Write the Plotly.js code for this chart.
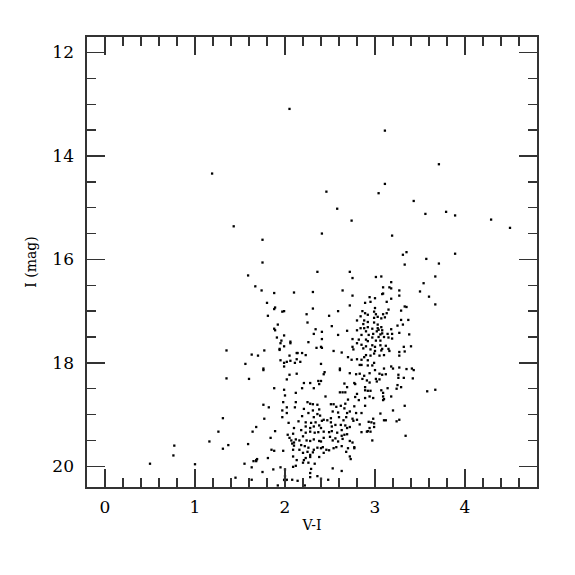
<!DOCTYPE html>
<html>
<head>
<meta charset="utf-8">
<script src="https://cdn.plot.ly/plotly-3.0.1.min.js"></script>
<style>html,body{margin:0;padding:0;background:#fff;}</style>
</head>
<body>
<div id="chart" style="width:575px;height:575px;"></div>
<script>
// Upper sparse stars
var viUpper  = [1.19,1.43,2.05,3.11,3.71,3.11,2.46,3.04,3.43,2.58,3.56,3.79,3.89,4.29,2.74,4.50,2.41,1.75,3.19];
var magUpper = [14.34,15.36,13.09,13.51,14.16,14.54,14.69,14.72,14.87,15.02,15.12,15.08,15.15,15.23,15.25,15.39,15.50,15.62,15.54];

// Blue sparse stars
var viBlue  = [1.35,1.35,1.31,1.26,1.16,1.37,1.31,0.77,0.76,0.50,1.00,1.45];
var magBlue = [17.76,18.30,19.07,19.33,19.52,19.59,19.66,19.60,19.79,19.95,19.96,20.22];

// Left bright branch (V-I 1.5-2.5, I 16-18.1)
var viLeftBright  = [1.75,1.59,2.36,1.67,1.74,1.88,2.10,2.31,1.80,1.89,
                     1.88,1.97,1.99,2.31,1.81,2.24,2.49,2.25,1.92,1.88,
                     1.89,2.34,2.41,1.99,2.32,1.91,1.96,2.06,2.06,2.41,
                     2.26,1.95,1.94,1.99,2.35,2.40,2.41,1.94,1.77,1.63,
                     1.70,2.13,2.14,2.19,2.23,2.05,2.13,1.95,1.56,2.02,
                     2.06,1.99,2.11,2.17,2.40,1.99,1.76];
var magLeftBright = [16.06,16.31,16.24,16.52,16.60,16.65,16.64,16.63,16.84,16.93,
                     16.96,17.01,17.00,16.95,17.09,17.06,17.09,17.22,17.26,17.34,
                     17.37,17.35,17.40,17.47,17.44,17.51,17.57,17.59,17.62,17.54,
                     17.60,17.62,17.73,17.68,17.71,17.69,17.71,17.75,17.76,17.84,
                     17.86,17.81,17.81,17.81,17.85,17.86,17.93,17.95,18.02,17.98,
                     17.96,18.00,18.00,17.98,18.02,18.07,18.11];

// Red bright branch (V-I 2.5-3.5, I 15.8-18.1)
var viRedBright  = [3.31,3.35,3.33,2.72,2.75,3.01,3.07,3.18,3.09,3.16,
                    3.18,2.64,2.75,3.08,3.09,3.27,3.27,3.50,2.94,3.00,
                    3.18,2.89,2.95,3.13,2.72,3.00,2.59,3.33,3.35,2.86,
                    2.89,2.99,3.15,3.29,3.13,2.84,2.92,3.01,3.09,2.99,
                    3.03,3.07,3.11,2.80,2.88,2.92,2.99,3.29,3.37,2.87,
                    3.03,3.31,2.52,2.84,2.88,2.92,2.97,3.03,3.07,2.90,
                    3.02,3.04,3.08,3.18,3.25,2.80,2.69,2.98,3.06,3.08,
                    3.14,3.19,2.93,2.85,2.59,3.27,3.38,2.97,3.04,3.10,
                    3.15,3.19,2.75,2.82,2.90,2.92,3.01,3.06,2.80,2.85,
                    2.90,2.97,3.00,3.06,3.12,3.32,3.40,2.75,2.87,2.76,
                    2.95,3.08,3.07,3.15,3.16,2.54,2.63,3.00,3.27,3.33,
                    2.90,2.99,2.95,2.88,3.05,3.10,3.27,2.70,2.74,2.80,
                    2.85,2.92,2.99,2.83,2.85,2.92,2.97,2.61,3.10,3.18,
                    3.20,3.27,3.35,3.41];
var magRedBright = [15.91,15.86,16.10,16.24,16.36,16.34,16.33,16.44,16.54,16.54,
                    16.56,16.60,16.70,16.67,16.66,16.60,16.70,16.62,16.73,16.75,
                    16.76,16.84,16.82,16.82,16.89,16.94,17.00,16.91,16.92,17.00,
                    17.04,17.01,16.97,16.99,17.04,17.10,17.07,17.06,17.06,17.13,
                    17.11,17.14,17.12,17.18,17.18,17.21,17.22,17.17,17.17,17.25,
                    17.26,17.26,17.29,17.33,17.33,17.31,17.34,17.33,17.31,17.39,
                    17.39,17.36,17.37,17.35,17.28,17.37,17.38,17.44,17.45,17.43,
                    17.44,17.44,17.46,17.46,17.46,17.42,17.45,17.51,17.50,17.50,
                    17.51,17.53,17.54,17.55,17.55,17.58,17.57,17.57,17.62,17.65,
                    17.68,17.66,17.69,17.66,17.67,17.69,17.68,17.69,17.72,17.74,
                    17.74,17.73,17.76,17.73,17.77,17.77,17.80,17.77,17.79,17.78,
                    17.85,17.82,17.86,17.89,17.86,17.85,17.86,17.89,17.94,17.93,
                    17.94,17.95,18.00,18.04,18.04,18.05,18.05,18.11,18.11,18.07,
                    18.11,18.09,18.12,18.11];

// Very red stars
var viVeryRed  = [3.89,3.57,3.71,3.67,3.54,3.60,3.67,3.58,3.67];
var magVeryRed = [15.89,15.99,16.08,16.33,16.46,16.72,16.87,18.55,18.52];

// Faint left part (V-I 1.5-2.2, I 18.1-20.4)
var viLeftFaint  = [1.76,1.60,2.05,2.13,2.02,1.88,1.99,2.00,2.12,1.76,
                    1.82,1.98,2.02,2.12,1.97,2.02,2.11,1.97,1.77,2.04,
                    2.15,1.68,1.64,1.89,2.10,2.03,2.09,2.05,1.84,2.07,
                    2.10,2.12,2.16,1.59,2.08,2.10,1.85,1.88,1.98,2.09,
                    2.16,1.69,1.68,1.65,1.68,1.81,1.55,2.09,2.13,2.12,
                    1.63,1.95,1.87,1.75,2.00,2.09,2.00,1.99,2.00,2.02,
                    2.08,1.63,1.92,2.14,2.28,2.40];
var magLeftFaint = [18.14,18.31,18.23,18.21,18.32,18.49,18.52,18.63,18.58,18.81,
                    18.86,18.76,18.86,18.76,18.92,18.97,18.86,19.05,19.08,19.16,
                    19.13,19.24,19.33,19.32,19.26,19.39,19.37,19.45,19.45,19.50,
                    19.54,19.48,19.50,19.57,19.56,19.60,19.68,19.70,19.70,19.68,
                    19.68,19.86,19.88,19.90,19.90,19.84,19.95,19.81,19.88,19.99,
                    20.02,20.02,20.06,20.11,20.06,20.01,20.19,20.26,20.28,20.26,
                    20.26,20.26,20.37,20.28,20.21,20.24];

// Faint middle part (V-I 2.2-2.85, I 18.1-20.4)
var viMidFaint  = [2.43,2.44,2.61,2.72,2.79,2.83,2.21,2.28,2.37,2.40,
                   2.38,2.66,2.69,2.77,2.78,2.19,2.32,2.61,2.64,2.67,
                   2.80,2.45,2.78,2.82,2.70,2.25,2.28,2.31,2.36,2.51,
                   2.54,2.57,2.67,2.62,2.66,2.77,2.21,2.31,2.26,2.38,
                   2.53,2.59,2.69,2.72,2.79,2.19,2.36,2.32,2.39,2.47,
                   2.41,2.43,2.51,2.60,2.65,2.68,2.75,2.80,2.76,2.83,
                   2.23,2.29,2.34,2.23,2.28,2.32,2.38,2.40,2.51,2.52,
                   2.56,2.62,2.67,2.69,2.72,2.18,2.23,2.20,2.28,2.33,
                   2.37,2.43,2.49,2.52,2.58,2.63,2.63,2.66,2.69,2.24,
                   2.28,2.32,2.38,2.40,2.43,2.50,2.53,2.56,2.59,2.64,
                   2.72,2.75,2.18,2.22,2.26,2.32,2.36,2.40,2.42,2.46,
                   2.49,2.54,2.57,2.63,2.70,2.77,2.77,2.20,2.25,2.28,
                   2.31,2.23,2.28,2.38,2.43,2.72,2.73,2.68,2.21,2.20,
                   2.26,2.33,2.29,2.53,2.63,2.28,2.36,2.48,2.22];
var magMidFaint = [18.22,18.18,18.14,18.20,18.22,18.21,18.39,18.39,18.35,18.35,
                   18.41,18.40,18.47,18.39,18.41,18.49,18.49,18.57,18.57,18.57,
                   18.60,18.65,18.66,18.72,18.71,18.76,18.79,18.80,18.81,18.80,
                   18.80,18.85,18.79,18.83,18.88,18.84,18.89,18.92,18.97,18.90,
                   18.94,18.96,18.97,18.94,18.97,19.03,18.99,19.05,19.02,19.11,
                   19.12,19.10,19.07,19.05,19.11,19.05,19.08,19.10,19.12,19.19,
                   19.15,19.16,19.15,19.23,19.26,19.23,19.21,19.26,19.15,19.23,
                   19.20,19.20,19.21,19.26,19.24,19.30,19.35,19.42,19.33,19.35,
                   19.34,19.33,19.34,19.32,19.35,19.30,19.41,19.39,19.38,19.50,
                   19.51,19.48,19.51,19.52,19.45,19.43,19.50,19.46,19.52,19.47,
                   19.51,19.54,19.59,19.61,19.64,19.68,19.64,19.65,19.63,19.68,
                   19.69,19.65,19.63,19.61,19.65,19.65,19.63,19.74,19.72,19.78,
                   19.73,19.84,19.82,19.82,19.74,19.81,19.86,19.72,19.88,19.93,
                   19.93,19.95,20.05,20.04,20.09,20.13,20.19,20.26,20.37];

// Faint red part (V-I 2.85-3.5, I 18.1-19.5)
var viRedFaint  = [2.88,2.94,3.00,3.05,3.08,3.12,2.86,2.91,2.94,3.01,
                   3.02,3.05,3.26,3.26,3.32,3.43,3.42,2.89,2.92,2.95,
                   2.89,3.07,3.09,3.14,3.25,3.24,3.29,2.94,2.98,2.89,
                   3.09,3.10,3.09,3.18,2.89,3.33,2.85,3.06,3.20,2.98,
                   2.93,2.96,2.99,3.10,3.12,3.24,3.27,2.99,2.94,2.91,
                   2.85,2.92,2.95,2.97,3.34];
var magRedFaint = [18.25,18.20,18.14,18.21,18.23,18.22,18.31,18.34,18.38,18.31,
                   18.36,18.32,18.23,18.29,18.29,18.14,18.30,18.47,18.54,18.54,
                   18.53,18.53,18.58,18.49,18.43,18.50,18.47,18.65,18.68,18.68,
                   18.65,18.70,18.72,18.65,18.83,18.83,18.97,18.98,18.92,19.08,
                   19.14,19.15,19.17,19.11,19.11,19.13,19.10,19.24,19.26,19.33,
                   19.34,19.32,19.33,19.50,19.41];

var xTickVals = [0,1,2,3,4];
var xTickText = ['0','1','2','3','4'];
var yTickVals = [12,14,16,18,20];
var yTickText = ['12','14','16','18','20'];

var vi = [].concat(viUpper, viBlue, viLeftBright, viRedBright, viVeryRed, viLeftFaint, viMidFaint, viRedFaint);
var mag = [].concat(magUpper, magBlue, magLeftBright, magRedBright, magVeryRed, magLeftFaint, magMidFaint, magRedFaint);

var axisColor = '#333';
var fontFam = '"DejaVu Serif", "Liberation Serif", serif';

var trace = {
  x: vi, y: mag, type: 'scatter', mode: 'markers',
  marker: {symbol: 'square', size: 2.3, color: '#000', line: {width: 0}},
  hoverinfo: 'skip'
};

var layout = {
  width: 575, height: 575,
  margin: {l: 87, r: 38, t: 37, b: 88},
  paper_bgcolor: '#fff', plot_bgcolor: '#fff',
  showlegend: false,
  xaxis: {
    range: [-0.2, 4.8],
    tickmode: 'array', tickvals: xTickVals, ticktext: xTickText,
    ticks: 'inside', ticklen: 18, tickwidth: 1.4, tickcolor: axisColor,
    minor: {tick0: 0, dtick: 0.2, ticks: 'inside', ticklen: 9, tickwidth: 1.4, tickcolor: axisColor},
    mirror: 'allticks', showline: true, linecolor: axisColor, linewidth: 1.6,
    showgrid: false, zeroline: false,
    ticklabelstandoff: 4,
    tickfont: {family: fontFam, size: 17, color: '#000'},
    title: {text: 'V-I', font: {family: fontFam, size: 14, color: '#000'}, standoff: 4}
  },
  yaxis: {
    range: [20.4, 11.7],
    tickmode: 'array', tickvals: yTickVals, ticktext: yTickText,
    ticks: 'inside', ticklen: 18, tickwidth: 1.4, tickcolor: axisColor,
    minor: {tick0: 0, dtick: 0.5, ticks: 'inside', ticklen: 9, tickwidth: 1.4, tickcolor: axisColor},
    mirror: 'allticks', showline: true, linecolor: axisColor, linewidth: 1.6,
    showgrid: false, zeroline: false,
    ticklabelstandoff: 8,
    tickfont: {family: fontFam, size: 17, color: '#000'},
    title: {text: 'I (mag)', font: {family: fontFam, size: 14, color: '#000'}, standoff: 12}
  }
};

Plotly.newPlot('chart', [trace], layout, {staticPlot: true, displayModeBar: false});
</script>
</body>
</html>
